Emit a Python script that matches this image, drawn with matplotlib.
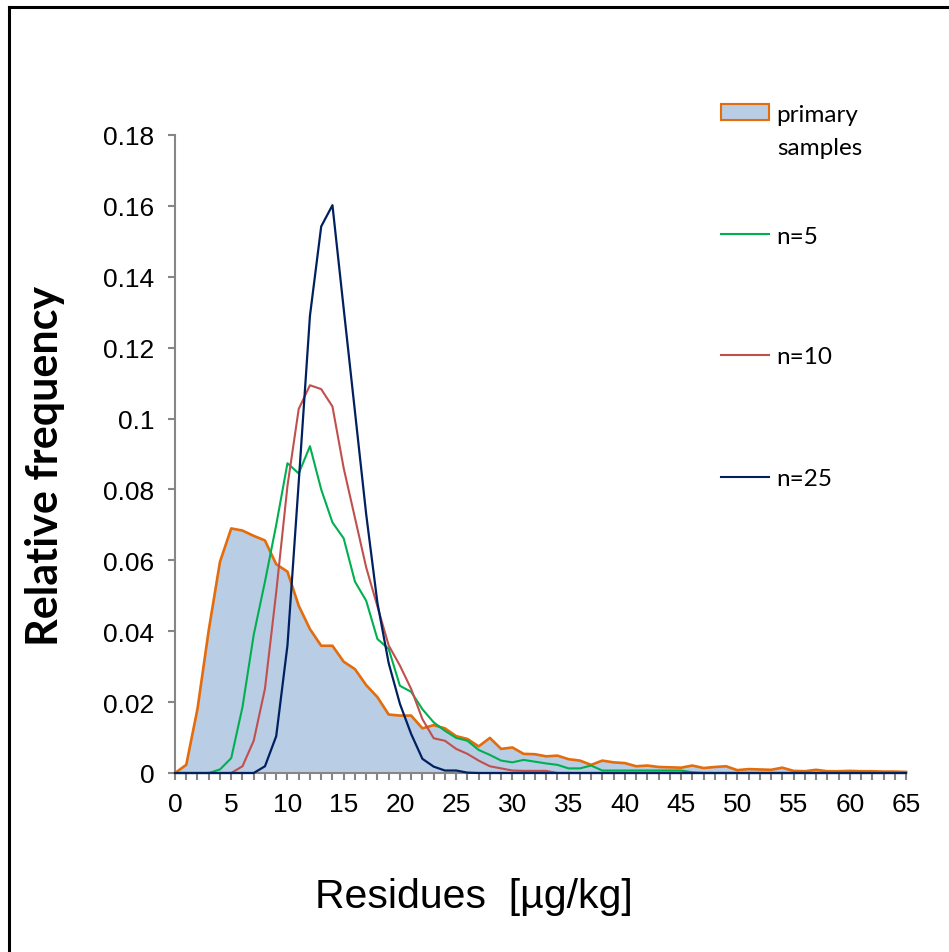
import matplotlib
matplotlib.use("Agg")
import matplotlib.pyplot as plt
from matplotlib.lines import Line2D
from matplotlib.patches import Patch
from matplotlib.ticker import MultipleLocator, FuncFormatter

# residue classes 0..65 ug/kg
residues = list(range(66))

primary = [0, 0.0023, 0.0181, 0.0403, 0.0596, 0.069, 0.0684, 0.0669, 0.0656, 0.0589,
           0.0568, 0.0472, 0.0406, 0.0359, 0.0359, 0.0314, 0.0293, 0.0248, 0.0214, 0.0165,
           0.0162, 0.0162, 0.0126, 0.0135, 0.0126, 0.0104, 0.0096, 0.0075, 0.0099, 0.0068,
           0.0072, 0.0054, 0.0053, 0.0047, 0.0049, 0.0039, 0.0035, 0.0023, 0.0035, 0.003,
           0.0028, 0.0019, 0.0021, 0.0017, 0.0016, 0.0015, 0.0021, 0.0014, 0.0017, 0.0019,
           0.0008, 0.0011, 0.001, 0.0009, 0.0015, 0.0006, 0.0005, 0.0009, 0.0005, 0.0005,
           0.0006, 0.0005, 0.0005, 0.0004, 0.0004, 0.0003]

n5 = [0, 0, 0, 0, 0.001, 0.0042, 0.0186, 0.039, 0.054, 0.070,
      0.0874, 0.0845, 0.0922, 0.080, 0.0707, 0.0662, 0.054, 0.0486, 0.0378, 0.035,
      0.0246, 0.0229, 0.018, 0.0143, 0.0119, 0.0099, 0.0091, 0.0065, 0.0051, 0.0035,
      0.003, 0.0037, 0.0032, 0.0027, 0.0023, 0.0013, 0.0013, 0.0021, 0.0007, 0.0007,
      0.0007, 0.0007, 0.0007, 0.0007, 0.0007, 0.0007, 0.0002] + [0] * 19

n10 = [0, 0, 0, 0, 0, 0, 0.0019, 0.0091, 0.0238, 0.051,
       0.081, 0.1027, 0.1094, 0.1083, 0.1034, 0.086, 0.072, 0.058, 0.047, 0.036,
       0.0303, 0.0237, 0.0152, 0.0098, 0.0091, 0.0068, 0.0054, 0.0035, 0.0019, 0.0013,
       0.0007, 0.0006, 0.0006, 0.0006] + [0] * 32

n25 = [0, 0, 0, 0, 0, 0, 0, 0, 0.0019, 0.0104,
       0.036, 0.082, 0.129, 0.1542, 0.1602, 0.131, 0.102, 0.073, 0.048, 0.031,
       0.0195, 0.011, 0.004, 0.0018, 0.0007, 0.0007, 0.0001] + [0] * 39

legend_labels = ["primary", "n=5", "n=10", "n=25"]

fill_col = "#b9cde5"
orange = "#e46c0a"
green = "#00b050"
red = "#c0504d"
navy = "#002060"
grey = "#868686"

fig = plt.figure(figsize=(9.49, 9.53), dpi=100)
ax = fig.add_axes([175 / 949, 1 - 774 / 953, (906 - 175) / 949, (774 - 136) / 953])

ax.fill_between(residues, primary, 0, color=fill_col, lw=0, zorder=1)
ax.plot(residues, primary, color=orange, lw=1.9, zorder=3, clip_on=False)
ax.plot(residues, n5, color=green, lw=1.5, zorder=3, clip_on=False)
ax.plot(residues, n10, color=red, lw=1.5, zorder=3, clip_on=False)
ax.plot(residues, n25, color=navy, lw=1.6, zorder=3, clip_on=False)

ax.set_xlim(0, 65)
ax.set_ylim(0, 0.18)
ax.xaxis.set_major_locator(MultipleLocator(5))
ax.xaxis.set_minor_locator(MultipleLocator(1))
ax.yaxis.set_major_locator(MultipleLocator(0.02))
ax.yaxis.set_major_formatter(FuncFormatter(lambda v, p: "%g" % round(v, 2)))

for s in ["top", "right"]:
    ax.spines[s].set_visible(False)
for s in ["left", "bottom"]:
    ax.spines[s].set_color(grey)
    ax.spines[s].set_linewidth(1.5)

ax.tick_params(which="both", direction="out", length=5, width=1.5, color=grey,
               labelsize=19, labelcolor="black")
ax.tick_params(axis="x", which="both", pad=9)
ax.tick_params(axis="y", pad=10)
for lab in ax.get_xticklabels() + ax.get_yticklabels():
    lab.set_family("Liberation Sans")

fig.text(474 / 949, 1 - 897 / 953, "Residues  [µg/kg]", ha="center", va="center",
         fontsize=29.5, family="Liberation Sans")
fig.text(45 / 949, 1 - 466 / 953, "Relative frequency", ha="center", va="center",
         rotation=90, fontsize=31, fontweight="bold", family="Lato")

# legend, one block per entry so the spacing follows the original
handles = [Patch(facecolor=fill_col, edgecolor=orange, lw=1.5),
           Line2D([], [], color=green, lw=1.5),
           Line2D([], [], color=red, lw=1.5),
           Line2D([], [], color=navy, lw=1.5)]
ys = [115, 237, 358, 480]
for h, lab, y in zip(handles, legend_labels, ys):
    lg = fig.legend([h], [lab], loc="center left", bbox_to_anchor=(709 / 949, 1 - y / 953),
                    frameon=False, handlelength=1.95, handleheight=0.6, handletextpad=0.3,
                    borderpad=0, prop={"family": "Lato", "size": 17.5})
fig.text(777 / 949, 1 - 149 / 953, "samples", ha="left", va="center",
         fontsize=17.5, family="Lato")

# frame edges visible in the original crop
fig.add_artist(Line2D([9 / 949, 1], [1 - 8 / 953, 1 - 8 / 953], color="black", lw=2.2))
fig.add_artist(Line2D([9 / 949, 9 / 949], [0, 1 - 8 / 953], color="black", lw=2.2))

fig.savefig("out.png", dpi=100)
